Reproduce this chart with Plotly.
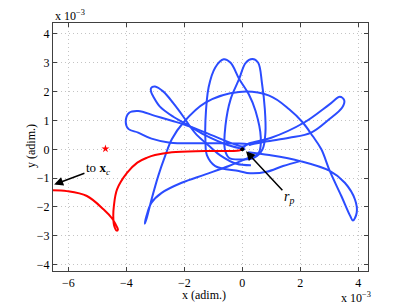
import plotly.graph_objects as go

# units: 1e-3 (adim.)
red_x = [-6.62, -6.05, -5.36, -4.78, -4.49, -4.36, -4.29, -4.33, -4.42, -4.45, -4.43, -4.32, -3.97, -3.62, -3.28, -3.01, -2.43, -1.27, -0.11, 0.0]
red_y = [-1.42, -1.45, -1.62, -2.09, -2.40, -2.62, -2.78, -2.82, -2.65, -2.32, -1.97, -1.39, -0.81, -0.46, -0.29, -0.20, -0.10, -0.06, -0.04, 0.0]

xc_marker_x = [-4.72]
xc_marker_y = [0.02]

arc_x = [0.23, -0.46, -1.27, -2.09, -2.78, -3.13, -3.30, -3.36, -3.30, -3.13, -2.90, -2.66, -2.43, -2.03, -1.27, -0.11, 0.93, 1.62, 2.09, 2.43, 2.73, 3.02, 3.42, 3.72, 3.82, 3.95, 3.89, 3.54, 3.02, 2.00, 0.93, 0.20]
arc_y = [-0.29, -0.58, -0.87, -1.16, -1.51, -1.85, -2.30, -2.58, -2.40, -1.74, -0.93, -0.23, 0.35, 0.93, 1.62, 1.99, 1.86, 1.39, 0.93, 0.46, 0.00, -0.75, -1.62, -2.30, -2.47, -2.20, -1.74, -1.16, -0.75, -0.41, -0.20, -0.10]

petal_left_x = [0.10, -0.11, -1.27, -2.03, -2.43, -3.01, -3.59, -3.90, -4.02, -3.92, -3.59, -3.13, -2.49, -1.27, -0.11, 0.30]
petal_left_y = [0.10, 0.12, 0.58, 0.87, 0.99, 1.16, 1.33, 1.27, 0.95, 0.70, 0.58, 0.37, 0.23, 0.21, 0.20, 0.17]

petal_ul_x = [0.30, -0.20, -0.77, -1.11, -1.57, -1.80, -2.03, -2.38, -2.72, -3.01, -3.15, -3.14, -3.07, -2.84, -2.38, -1.98, -1.30, -0.50, 0.10]
petal_ul_y = [-0.55, -0.50, -0.20, 0.09, 0.50, 0.79, 1.13, 1.60, 2.00, 2.18, 2.12, 1.98, 1.83, 1.48, 1.13, 0.90, 0.50, 0.15, 0.00]

petal_c_x = [2.00, 1.41, 0.84, 0.27, -0.12, -0.93, -1.22, -1.27, -1.27, -1.16, -0.93, -0.64, -0.40, -0.11, 0.23, 0.46, 0.64, 0.58, 0.30]
petal_c_y = [-0.41, -0.58, -0.78, -0.83, -0.75, -0.58, -0.20, 0.30, 0.99, 2.15, 2.84, 3.12, 3.00, 2.45, 1.90, 1.33, 0.41, -0.10, -0.30]

petal_d_x = [0.00, -0.45, -0.60, -0.58, -0.40, -0.11, 0.12, 0.35, 0.55, 0.68, 0.78, 0.80, 0.70, 0.40, 0.00]
petal_d_y = [-0.35, -0.30, 0.00, 0.81, 1.74, 2.43, 3.00, 3.13, 3.00, 2.30, 1.39, 0.58, 0.00, -0.30, -0.35]

petal_r_x = [0.00, 0.23, 1.00, 2.14, 3.00, 3.37, 3.52, 3.45, 3.00, 2.38, 1.62, 0.81, 0.23]
petal_r_y = [0.05, 0.20, 0.40, 0.93, 1.55, 1.82, 1.70, 1.45, 1.04, 0.58, 0.40, 0.27, 0.15]

x_ticks = [-6, -4, -2, 0, 2, 4]
y_ticks = [-4, -3, -2, -1, 0, 1, 2, 3, 4]
x_range = [-6.53, 4.34]
y_range = [-4.22, 4.38]

BLUE = "#2b4cff"
RED = "#ff0000"
FONT = "Liberation Serif"

fig = go.Figure()
for px_, py_ in [(arc_x, arc_y), (petal_left_x, petal_left_y), (petal_ul_x, petal_ul_y),
                 (petal_c_x, petal_c_y), (petal_d_x, petal_d_y), (petal_r_x, petal_r_y)]:
    fig.add_trace(go.Scatter(x=px_, y=py_, mode="lines", line=dict(color=BLUE, width=2, shape="spline", smoothing=1.0),
                             showlegend=False, hoverinfo="skip"))
fig.add_trace(go.Scatter(x=red_x, y=red_y, mode="lines", line=dict(color=RED, width=2, shape="spline", smoothing=1.0),
                         showlegend=False, hoverinfo="skip"))
fig.add_trace(go.Scatter(x=xc_marker_x, y=xc_marker_y, mode="markers",
                         marker=dict(symbol="star", size=6, color=RED), showlegend=False, hoverinfo="skip"))
fig.add_trace(go.Scatter(x=[0.0], y=[0.0], mode="markers",
                         marker=dict(symbol="circle", size=4, color="black"), showlegend=False, hoverinfo="skip"))

axis_common = dict(showgrid=True, gridcolor="#c4c4c4", griddash="1px,3px", gridwidth=1,
                   zeroline=False, showline=True, linecolor="#404040", linewidth=1.2,
                   mirror="ticks", ticks="inside", ticklen=4, tickcolor="#404040",
                   tickfont=dict(family=FONT, size=12, color="black"))
fig.update_xaxes(range=x_range, tickvals=x_ticks, ticktext=["\u2212" + str(-v) if v < 0 else str(v) for v in x_ticks],
                 **axis_common)
fig.update_yaxes(range=y_range, tickvals=y_ticks, ticktext=["\u2212" + str(-v) if v < 0 else str(v) for v in y_ticks],
                 **axis_common)

# arrows with their labels (text sits at the arrow tail)
fig.add_annotation(x=0.13, y=-0.07, ax=1.61, ay=-1.66, xref="x", yref="y", axref="x", ayref="y",
                   text="<i>r</i><sub><i>p</i></sub>", showarrow=True, arrowhead=2, arrowsize=1.2,
                   arrowwidth=1.5, arrowcolor="black", font=dict(family=FONT, size=14, color="black"))
fig.add_annotation(x=-6.49, y=-1.22, ax=-4.98, ay=-0.66, xref="x", yref="y", axref="x", ayref="y",
                   text="to <b>x</b><sub><i>c</i></sub>", showarrow=True, arrowhead=2, arrowsize=1.2,
                   arrowwidth=1.5, arrowcolor="black", font=dict(family=FONT, size=13, color="black"))

# axis titles and exponents
fig.add_annotation(x=(204 - 53) / 315, y=-(294 - 270) / 248, xref="paper", yref="paper", text="x (adim.)",
                   showarrow=False, font=dict(family=FONT, size=12, color="black"), yanchor="middle")
fig.add_annotation(x=-(53 - 31) / 315, y=(270 - 145) / 248, xref="paper", yref="paper", text="y (adim.)",
                   textangle=-90, showarrow=False, font=dict(family=FONT, size=12, color="black"), xanchor="center")
fig.add_annotation(x=0.0, y=(270 - 14) / 248, xref="paper", yref="paper", text="x 10<sup>\u22123</sup>",
                   showarrow=False, font=dict(family=FONT, size=12, color="black"), xanchor="left", yanchor="middle")
fig.add_annotation(x=(339 - 53) / 315, y=-(296 - 270) / 248, xref="paper", yref="paper", text="x 10<sup>\u22123</sup>",
                   showarrow=False, font=dict(family=FONT, size=12, color="black"), xanchor="left", yanchor="middle")

fig.update_layout(width=407, height=306, margin=dict(l=53, r=39, t=23, b=35),
                  plot_bgcolor="white", paper_bgcolor="white", showlegend=False)
fig.write_html("out.html", config={"displayModeBar": False},
               post_script="document.body.style.margin='0';document.body.style.padding='0';")
